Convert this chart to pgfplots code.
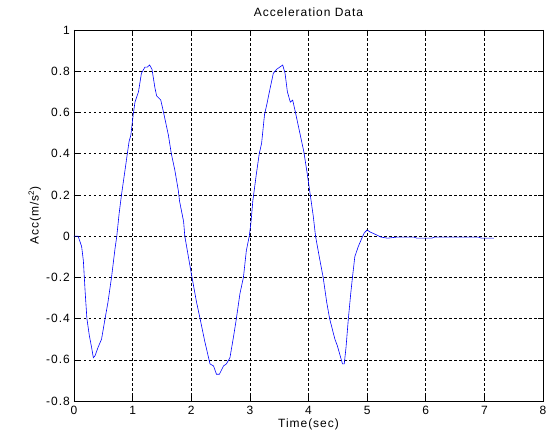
\documentclass[border=0pt]{standalone}
\usepackage{fontspec}
\setmainfont{Liberation Sans}[LetterSpace=8]
\usepackage{pgfplots}
\pgfplotsset{compat=1.18}

\begin{document}
\fontsize{12}{14}\selectfont
\begin{tikzpicture}
% page frame: 554 x 441 (1px = 1pt), axis box 469 x 371 placed at (74,40) from lower left
\useasboundingbox (-74pt,-40pt) rectangle (480pt,401pt);
\begin{axis}[
    scale only axis,
    width=469pt, height=371pt,
    xmin=0, xmax=8, ymin=-0.8, ymax=1,
    xtick={0,1,2,3,4,5,6,7,8},
    ytick={-0.8,-0.6,-0.4,-0.2,0,0.2,0.4,0.6,0.8,1},
    /pgf/number format/assume math mode=true,
    tick align=inside,
    major tick length=5pt,
    tick style={black, line width=0.5pt},
    axis line style={black, line width=0.6pt},
    grid=major,
    major grid style={black, line width=0.5pt, dash pattern=on 2.5pt off 2.5pt},
    title={Acceleration Data},
    title style={yshift=3pt},
    xlabel={Time(sec)},
    ylabel={Acc(m/s\textsuperscript{2})},
    xlabel style={yshift=4pt},
    ylabel style={yshift=-3pt},
    xticklabel style={yshift=-1pt},
]
\addplot[color=blue, line width=0.6pt] coordinates {
    (0,0) (0.07,0) (0.13,-0.05) (0.16,-0.12) (0.19,-0.27) (0.22,-0.40)
    (0.26,-0.48) (0.30,-0.54) (0.33,-0.59) (0.36,-0.58) (0.41,-0.54)
    (0.47,-0.50) (0.53,-0.40) (0.58,-0.32) (0.64,-0.20) (0.70,-0.06)
    (0.73,0) (0.77,0.11) (0.81,0.20) (0.87,0.32) (0.91,0.40) (0.94,0.46)
    (0.97,0.49) (1.01,0.59) (1.04,0.65) (1.10,0.70) (1.15,0.79) (1.21,0.82)
    (1.25,0.82) (1.29,0.83) (1.33,0.81) (1.38,0.72) (1.41,0.68) (1.48,0.66)
    (1.52,0.61) (1.61,0.49) (1.66,0.40) (1.72,0.32) (1.78,0.22) (1.80,0.17)
    (1.87,0.07) (1.89,0) (2.00,-0.18) (2.09,-0.32) (2.15,-0.40) (2.23,-0.51)
    (2.32,-0.62) (2.38,-0.63) (2.43,-0.67) (2.48,-0.67) (2.55,-0.63)
    (2.60,-0.62) (2.66,-0.59) (2.72,-0.49) (2.77,-0.40) (2.83,-0.28)
    (2.89,-0.20) (2.94,-0.07) (2.99,0) (3.02,0.07) (3.05,0.17) (3.11,0.30)
    (3.16,0.40) (3.20,0.45) (3.25,0.59) (3.29,0.64) (3.34,0.71) (3.40,0.79)
    (3.46,0.81) (3.51,0.82) (3.56,0.83) (3.60,0.79) (3.64,0.70) (3.69,0.65)
    (3.73,0.66) (3.77,0.61) (3.83,0.53) (3.92,0.41) (3.98,0.30) (4.03,0.20)
    (4.08,0.10) (4.12,0) (4.19,-0.11) (4.25,-0.20) (4.31,-0.32) (4.36,-0.40)
    (4.45,-0.50) (4.49,-0.53) (4.53,-0.57) (4.58,-0.62) (4.61,-0.62)
    (4.64,-0.54) (4.68,-0.40) (4.72,-0.28) (4.75,-0.20) (4.79,-0.10)
    (4.85,-0.05) (4.91,-0.01) (4.95,0.015) (5.00,0.03) (5.05,0.02)
    (5.13,0.01) (5.24,-0.005) (5.35,-0.01) (5.5,-0.005) (5.8,-0.005)
    (5.85,-0.01) (6.0,-0.01) (6.1,-0.01) (6.15,-0.005) (6.5,-0.005)
    (6.9,-0.005) (6.95,-0.01) (7.0,-0.01) (7.05,-0.01) (7.16,-0.01)
};
\end{axis}
\end{tikzpicture}
\end{document}
